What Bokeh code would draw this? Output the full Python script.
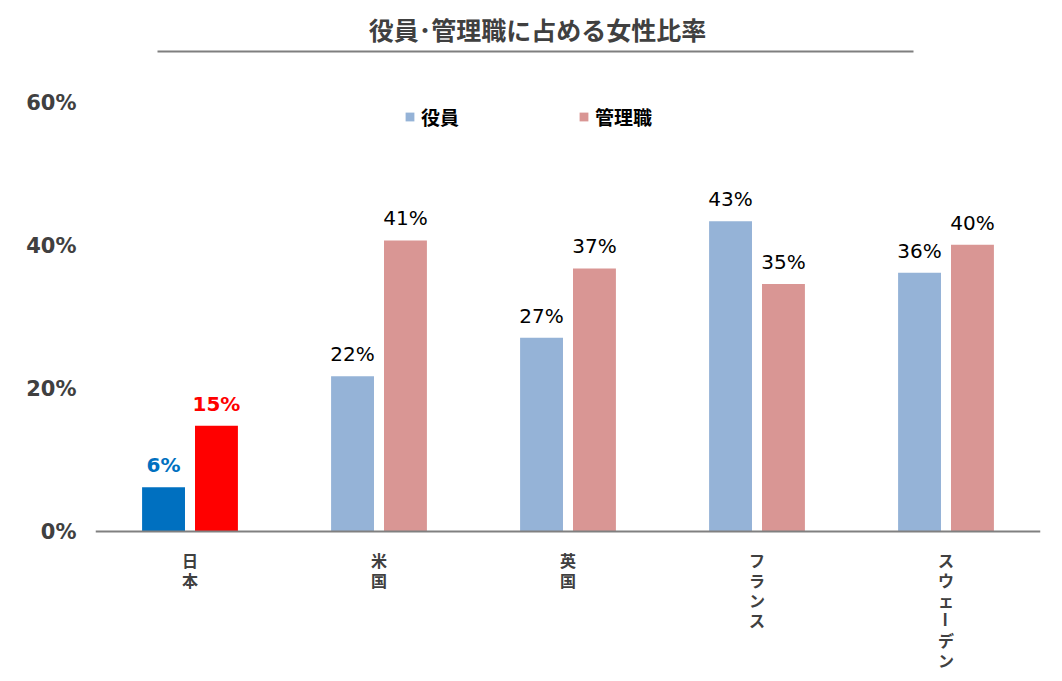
import math
from bokeh.plotting import figure
from bokeh.models import (ColumnDataSource, FactorRange, Label, BoxAnnotation, Legend,
                          LegendItem, NumeralTickFormatter, FixedTicker, Span)
from bokeh.transform import dodge
from bokeh.core.properties import value
from bokeh.embed import file_html
from bokeh.resources import INLINE

title_text = "役員･管理職に占める女性比率"
countries = ["日本", "米国", "英国", "フランス", "スウェーデン"]
yakuin = [6.2, 21.7, 27.1, 43.4, 36.2]
kanri = [14.8, 40.7, 36.8, 34.6, 40.1]
yakuin_colors = ["#0070C0", "#95B3D7", "#95B3D7", "#95B3D7", "#95B3D7"]
kanri_colors = ["#FF0000", "#D99694", "#D99694", "#D99694", "#D99694"]
yakuin_label_colors = ["#0070C0", "#000000", "#000000", "#000000", "#000000"]
kanri_label_colors = ["#FF0000", "#000000", "#000000", "#000000", "#000000"]
label_styles = ["bold", "normal", "normal", "normal", "normal"]
series_names = ["役員", "管理職"]
y_ticks = [0, 20, 40, 60]

JP = "Noto Sans CJK JP"
NUM = "DejaVu Sans"

src = ColumnDataSource(dict(
    x=countries,
    yakuin=yakuin, kanri=kanri,
    yc=yakuin_colors, kc=kanri_colors,
    ylc=yakuin_label_colors, klc=kanri_label_colors,
    ylab=[f"{round(v)}%" for v in yakuin],
    klab=[f"{round(v)}%" for v in kanri],
    style=label_styles,
))

# category labels written vertically, one character under another
chars, char_x, char_off, char_ang = [], [], [], []
for c in countries:
    for j, ch in enumerate(c):
        chars.append(ch)
        char_x.append(c)
        char_off.append(28 + 20 * j)
        char_ang.append(-math.pi / 2 if ch == "ー" else 0.0)
csrc = ColumnDataSource(dict(ch=chars, x=char_x, y=[0] * len(chars), off=char_off, ang=char_ang))

# frame spans the whole canvas height: 0% at 531px, 60% at 102px
px_per_unit = (531 - 102) / 60
y_lo = -(681 - 531) / px_per_unit
y_hi = 60 + 102 / px_per_unit

p = figure(width=1062, height=681, x_range=FactorRange(*countries), y_range=(y_lo, y_hi),
           output_backend="svg", toolbar_location=None, tools="",
           min_border_left=95, min_border_right=22, min_border_top=0, min_border_bottom=0)
p.outline_line_color = None
p.grid.grid_line_color = None
p.background_fill_color = "white"
p.xaxis.visible = False

w = 0.227
off = 0.14
r1 = p.vbar(x=dodge("x", -off, range=p.x_range), top="yakuin", width=w, source=src,
            fill_color="yc", line_color=None)
r2 = p.vbar(x=dodge("x", off, range=p.x_range), top="kanri", width=w, source=src,
            fill_color="kc", line_color=None)

for col, lc, lab, d in (("yakuin", "ylc", "ylab", -off), ("kanri", "klc", "klab", off)):
    p.text(x=dodge("x", d, range=p.x_range), y=col, text=lab, source=src,
           text_color=lc, text_font_style="style", text_font=value(NUM),
           text_font_size="20px", text_align="center", text_baseline="bottom", y_offset=-10)

# baseline (x axis line)
p.add_layout(Span(location=0, dimension="width", line_color="#808080", line_width=2))

# category labels
p.text(x="x", y="y", text="ch", source=csrc, y_offset="off", angle="ang",
       text_font=value(JP), text_font_style="bold", text_font_size="16px",
       text_color="#404040", text_align="center", text_baseline="middle")

# y axis
p.yaxis.ticker = FixedTicker(ticks=y_ticks)
p.yaxis.formatter = NumeralTickFormatter(format="0")
p.yaxis.major_label_overrides = {t: f"{t}%" for t in y_ticks}
p.yaxis.axis_line_color = None
p.yaxis.major_tick_line_color = None
p.yaxis.minor_tick_line_color = None
p.yaxis.major_label_text_font = NUM
p.yaxis.major_label_text_font_style = "bold"
p.yaxis.major_label_text_font_size = "21px"
p.yaxis.major_label_text_color = "#404040"
p.yaxis.major_label_standoff = 13

# legend
legend = Legend(items=[LegendItem(label=series_names[0], renderers=[r1], index=1),
                       LegendItem(label=series_names[1], renderers=[r2], index=1)],
                orientation="horizontal", location=(309, 551),
                glyph_width=11, glyph_height=11, label_standoff=6, spacing=119,
                label_height=22, padding=0, margin=0, border_line_color=None,
                background_fill_alpha=0,
                label_text_font=JP, label_text_font_style="bold",
                label_text_font_size="19px", label_text_color="#000000")
p.add_layout(legend, "center")

# title and underline (screen units relative to the plot frame)
p.add_layout(Label(x=442, y=653, x_units="screen", y_units="screen", text=title_text,
                   text_font=JP, text_font_style="bold", text_font_size="25px",
                   text_color="#404040", text_align="center", text_baseline="middle"))
p.add_layout(BoxAnnotation(left=62, right=818, bottom=629, top=631,
                           left_units="screen", right_units="screen",
                           bottom_units="screen", top_units="screen",
                           fill_color="#7F7F7F", fill_alpha=1, line_color=None))

open("out.html", "w").write(file_html(p, INLINE))
